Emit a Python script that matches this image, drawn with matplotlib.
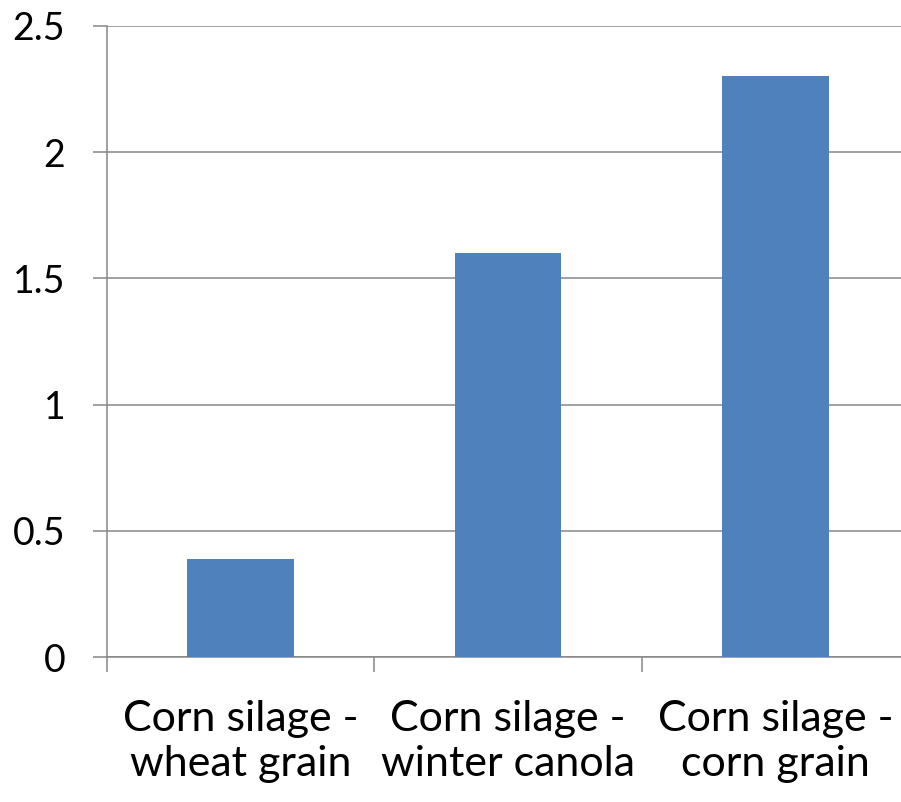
#!/usr/bin/env python

import numpy as np
import matplotlib
matplotlib.use("Agg")
import matplotlib.pyplot as plt

# chart data
categories = ["Corn silage -\nwheat grain", "Corn silage -\nwinter canola", "Corn silage -\ncorn grain"]
values = [0.39, 1.6, 2.3]
y_ticks = [0, 0.5, 1, 1.5, 2, 2.5]
y_tick_labels = ["0", "0.5", "1", "1.5", "2", "2.5"]

bar_color = "#4F81BD"
axis_color = "#868686"


def main():
    plt.rcParams['font.family'] = ['Lato', 'DejaVu Sans']

    fig = plt.figure(figsize=(9.01, 8.02), dpi=100)
    # axes extends slightly past the right edge like the original
    ax = fig.add_axes([107 / 901, 145 / 802, 802 / 901, 631 / 802])

    x = np.arange(len(categories))
    ax.bar(x, values, width=0.4, color=bar_color, zorder=3)

    ax.set_xlim(-0.5, len(categories) - 0.5)
    ax.set_ylim(0, 2.5)

    # gridlines
    ax.set_yticks(y_ticks)
    ax.set_yticklabels(y_tick_labels)
    ax.yaxis.grid(True, color=axis_color, linewidth=1.1, zorder=0)
    ax.set_axisbelow(True)

    # category labels at centers, tick marks between categories
    ax.set_xticks(x)
    ax.set_xticklabels(categories, linespacing=1.22)
    ax.set_xticks(np.arange(-0.5, len(categories) + 0.5, 1), minor=True)
    ax.tick_params(axis='x', which='major', length=0, pad=31, labelsize=31)
    ax.tick_params(axis='x', which='minor', length=11, width=1.1, color=axis_color)
    ax.tick_params(axis='y', length=10, width=1.1, color=axis_color, pad=20, labelsize=27)

    for side in ['top', 'right']:
        ax.spines[side].set_visible(False)
    for side in ['left', 'bottom']:
        ax.spines[side].set_color(axis_color)
        ax.spines[side].set_linewidth(1.1)

    fig.savefig("out.png", dpi=100)


if __name__ == "__main__":
    main()
